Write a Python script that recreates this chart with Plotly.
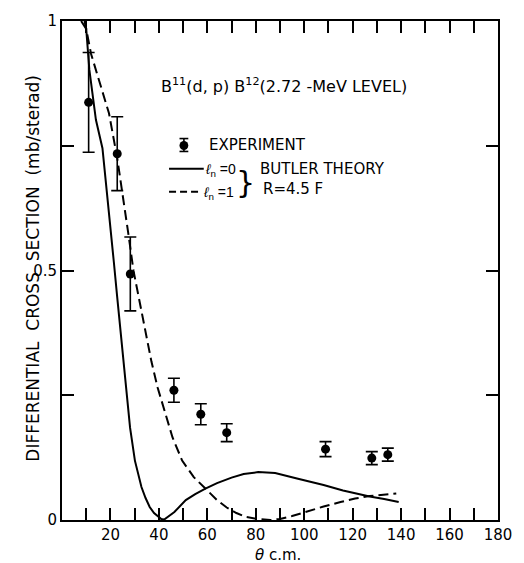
import plotly.graph_objects as go

# Measured angular distribution, B11(d,p)B12 to the 2.72-MeV level
theta_exp = [11.0, 22.8, 28.2, 46.2, 57.3, 68.0, 108.8, 127.9, 134.5]
sigma_exp = [0.837, 0.734, 0.493, 0.260, 0.212, 0.175, 0.142, 0.124, 0.131]
sigma_err = [0.100, 0.074, 0.074, 0.024, 0.021, 0.018, 0.015, 0.013, 0.013]

# Butler theory, l_n = 0
theta_l0 = [9.3, 10.0, 11.3, 14.0, 16.7, 19.4, 21.4, 22.7, 24.1, 25.4, 26.8, 28.1,
            30.1, 32.8, 34.5, 36.2, 38.0, 39.5, 41.0, 42.2, 44.0, 46.4, 51.1, 55.0,
            59.2, 64.0, 70.0, 75.0, 81.0, 88.0, 97.0, 103.0, 108.0, 116.0, 122.0,
            127.0, 133.0, 139.0]
sigma_l0 = [1.000, 0.984, 0.902, 0.802, 0.745, 0.620, 0.517, 0.451, 0.384, 0.318,
            0.252, 0.185, 0.119, 0.066, 0.044, 0.026, 0.014, 0.007, 0.002, 0.001,
            0.007, 0.016, 0.040, 0.052, 0.063, 0.074, 0.085, 0.092, 0.096, 0.094,
            0.083, 0.076, 0.070, 0.059, 0.052, 0.047, 0.042, 0.036]

# Butler theory, l_n = 1
theta_l1 = [7.9, 10.0, 12.0, 16.0, 19.4, 22.8, 25.0, 27.5, 29.5, 31.5, 34.2, 36.9,
            39.5, 42.2, 45.6, 49.6, 54.4, 59.2, 64.0, 68.0, 72.0, 76.0, 81.0, 86.0,
            90.0, 95.0, 101.0, 108.0, 115.0, 121.0, 127.0, 133.0, 138.0]
sigma_l1 = [1.000, 0.984, 0.934, 0.868, 0.815, 0.725, 0.655, 0.570, 0.500, 0.451,
            0.384, 0.318, 0.265, 0.219, 0.166, 0.119, 0.086, 0.063, 0.040, 0.025,
            0.014, 0.006, 0.002, 0.000, 0.002, 0.008, 0.017, 0.027, 0.036, 0.043,
            0.048, 0.051, 0.053]

x_ticks = [20, 40, 60, 80, 100, 120, 140, 160, 180]
x_labels = [str(v) for v in x_ticks]
y_ticks = [0, 0.5, 1.0]
y_labels = ["0", "0.5", "1"]

FONT = "DejaVu Sans, Liberation Sans, sans-serif"
FONT_N = "Liberation Sans, Arial, sans-serif"
W, H = 524, 563
ML, MR, MT, MB = 62, 16, 17, 43
PW, PH = W - ML - MR, H - MT - MB


def px_x(px):
    return (px - ML) / PW


def px_y(py):
    return (H - MB - py) / PH


fig = go.Figure()

fig.add_trace(go.Scatter(
    x=theta_l0, y=sigma_l0, mode="lines",
    line=dict(color="black", width=2),
    showlegend=False,
))
fig.add_trace(go.Scatter(
    x=theta_l1, y=sigma_l1, mode="lines",
    line=dict(color="black", width=2, dash="10px,5px"),
    showlegend=False,
))
fig.add_trace(go.Scatter(
    x=theta_exp, y=sigma_exp, mode="markers",
    marker=dict(color="black", size=9),
    error_y=dict(type="data", array=sigma_err, visible=True,
                 color="black", thickness=1.6, width=6),
    showlegend=False,
))

shapes = []
# legend: experiment symbol with its error bar
lx, ly = 186.7, 142.5
shapes.append(dict(type="line", xref="paper", yref="paper",
                   x0=px_x(lx), x1=px_x(lx), y0=px_y(ly - 7), y1=px_y(ly + 6),
                   line=dict(color="black", width=1.6)))
for cy in (ly - 7, ly + 6):
    shapes.append(dict(type="line", xref="paper", yref="paper",
                       x0=px_x(lx - 4.5), x1=px_x(lx + 4.5), y0=px_y(cy), y1=px_y(cy),
                       line=dict(color="black", width=1.6)))
shapes.append(dict(type="circle", xref="paper", yref="paper",
                   x0=px_x(lx - 4.5), x1=px_x(lx + 4.5),
                   y0=px_y(ly + 4.5), y1=px_y(ly - 4.5),
                   fillcolor="black", line=dict(color="black", width=0)))
# legend: line samples
shapes.append(dict(type="line", xref="paper", yref="paper",
                   x0=px_x(171.5), x1=px_x(207), y0=px_y(166), y1=px_y(166),
                   line=dict(color="black", width=2)))
shapes.append(dict(type="line", xref="paper", yref="paper",
                   x0=px_x(171.5), x1=px_x(204), y0=px_y(189), y1=px_y(189),
                   line=dict(color="black", width=2, dash="7px,4px")))

txt = dict(family=FONT, size=15, color="black")
txt_n = dict(family=FONT_N, size=14, color="black")
annotations = [
    dict(text="B<sup>11</sup>(d, p) B<sup>12</sup>(2.72 -MeV LEVEL)",
         x=px_x(161), y=px_y(82), xanchor="left", yanchor="middle",
         font=dict(family=FONT, size=16, color="black")),
    dict(text="EXPERIMENT", x=px_x(210), y=px_y(142), xanchor="left", yanchor="middle"),
    dict(text="<i>ℓ</i><sub>n</sub> =0", x=px_x(206), y=px_y(167), xanchor="left",
         yanchor="middle", font=txt_n),
    dict(text="<i>ℓ</i><sub>n</sub> =1", x=px_x(204), y=px_y(190), xanchor="left",
         yanchor="middle", font=txt_n),
    dict(text="}", x=px_x(250), y=px_y(180), xanchor="center", yanchor="middle",
         font=dict(family=FONT, size=30, color="black")),
    dict(text="BUTLER THEORY", x=px_x(262), y=px_y(166), xanchor="left", yanchor="middle"),
    dict(text="R=4.5 F", x=px_x(266), y=px_y(186), xanchor="left", yanchor="middle"),
    dict(text="DIFFERENTIAL\u00a0 CROSS\u00a0 SECTION\u00a0 (mb/sterad)",
         x=px_x(32), y=px_y(266), xanchor="center", yanchor="middle", textangle=-90,
         font=dict(family=FONT, size=17, color="black")),
    dict(text="<i>θ</i> c.m.", x=px_x(283), y=px_y(555), xanchor="center", yanchor="middle"),
]
for a in annotations:
    a.setdefault("xref", "paper")
    a.setdefault("yref", "paper")
    a.setdefault("showarrow", False)
    a.setdefault("font", txt)

axis_common = dict(
    showline=True, linecolor="black", linewidth=2, mirror="ticks",
    ticks="inside", ticklen=12, tickwidth=1.6, tickcolor="black",
    showgrid=False, zeroline=False,
    tickfont=dict(family=FONT, size=15, color="black"),
)

fig.update_layout(
    width=W, height=H,
    margin=dict(l=ML, r=MR, t=MT, b=MB),
    paper_bgcolor="white", plot_bgcolor="white",
    xaxis=dict(range=[0, 180], tickmode="array", tickvals=x_ticks, ticktext=x_labels,
               minor=dict(tick0=0, dtick=10, ticks="inside", ticklen=12,
                          tickwidth=1.6, tickcolor="black", showgrid=False),
               **axis_common),
    yaxis=dict(range=[0, 1], tickmode="array", tickvals=y_ticks, ticktext=y_labels,
               minor=dict(tick0=0, dtick=0.25, ticks="inside", ticklen=12,
                          tickwidth=1.6, tickcolor="black", showgrid=False),
               **axis_common),
    shapes=shapes,
    annotations=annotations,
)

fig.write_html("out.html")
